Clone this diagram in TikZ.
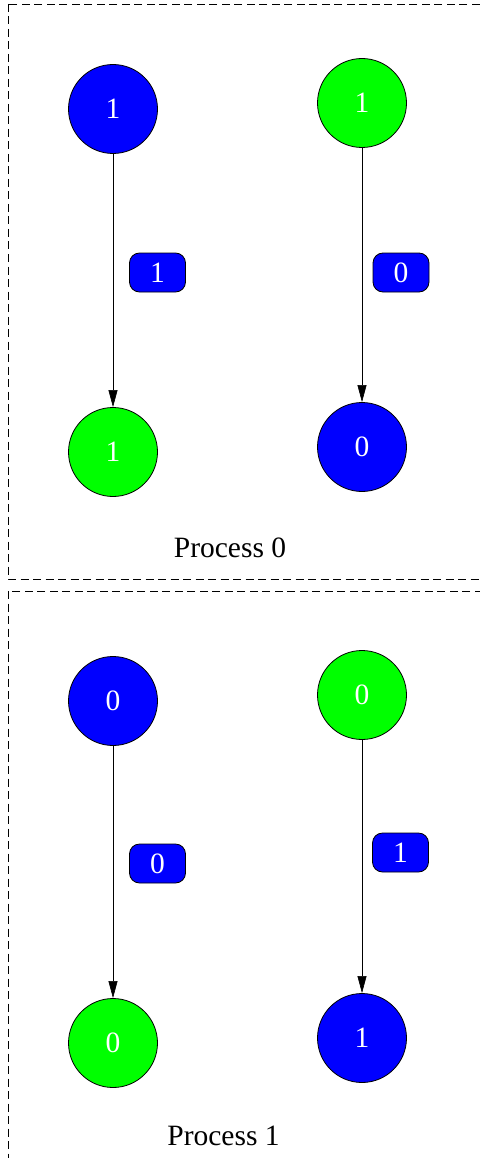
\documentclass[tikz,border=0pt]{standalone}
\usepackage{fontspec}
\setmainfont{Liberation Serif}
\usepackage{tikz}
\usetikzlibrary{arrows.meta}
\usetikzlibrary{positioning}

\begin{document}
\begin{tikzpicture}[x=1pt,y=-1pt,
      >={Triangle[length=17pt,width=9pt]},
      on grid,
      semithick,
      ball/.style={circle,draw,line width=0.8pt,minimum size=89pt,inner sep=0pt,
        text=white,font=\fontsize{29.5}{35}\selectfont},
      blueball/.style={ball,fill={rgb,255:red,0;green,0;blue,255}},
      greenball/.style={ball,fill={rgb,255:red,0;green,255;blue,0}},
      msg/.style={draw,line width=0.8pt,rounded corners=10pt,minimum width=56pt,
        minimum height=39pt,inner sep=0pt,text=white,
        fill={rgb,255:red,0;green,0;blue,255},font=\fontsize{29.5}{35}\selectfont},
      title/.style={anchor=base,font=\fontsize{29.5}{35}\selectfont},
      cluster/.style={draw,line width=0.8pt,dash pattern=on 8pt off 4.5pt}]

    \useasboundingbox (0,0) rectangle (479,1158);

    % process 0
    \draw[cluster] (8,4) rectangle (500,579);
    \node[blueball]
      (PzeroA) at (113,109) {1};
    \node[greenball]
      (PzeroB) at (362,103) {1};
    \node[greenball]
      (PzeroC) [below=343pt of PzeroA] {1};
    \node[blueball]
      (PzeroD) [below=344pt of PzeroB] {0};
    \node[msg]
      (PzeroMsgA) at (157.5,272.5) {1};
    \node[msg]
      (PzeroMsgB) at (401,272.5) {0};
    \node[title]
      (PzeroTitle) at (230,557) {Process 0};

    \path[->]
      (PzeroA) edge (PzeroC)
      (PzeroB) edge (PzeroD);

    % process 1
    \draw[cluster] (8,591) rectangle (500,1180);
    \node[blueball]
      (PoneA) at (113,701) {0};
    \node[greenball]
      (PoneB) at (362,695) {0};
    \node[greenball]
      (PoneC) [below=342pt of PoneA] {0};
    \node[blueball]
      (PoneD) [below=343pt of PoneB] {1};
    \node[msg]
      (PoneMsgA) at (157.5,863.5) {0};
    \node[msg]
      (PoneMsgB) at (400.5,852.5) {1};
    \node[title]
      (PoneTitle) at (223.5,1145) {Process 1};

    \path[->]
      (PoneA) edge (PoneC)
      (PoneB) edge (PoneD);

  \end{tikzpicture}
\end{document}
